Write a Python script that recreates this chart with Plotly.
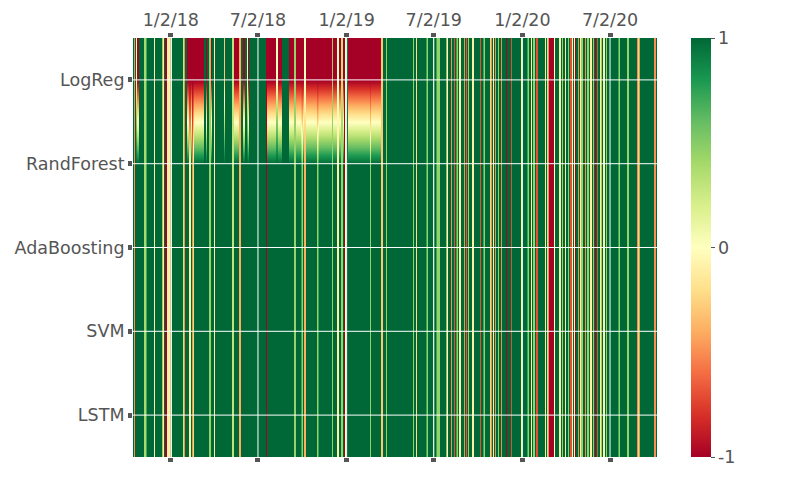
import pandas as pd
import plotly.graph_objects as go

# rows of the heatmap, top to bottom
models = ["LogReg", "RandForest", "AdaBoosting", "SVM", "LSTM"]

# trading days shown on the x axis
first_day = "2017-10-16"
last_day = "2020-10-07"

# days where the four lower models are not +1  (first day, last day, value)
shared_stripes = [
    ("2017-10-17", "2017-10-18", -0.5), ("2017-11-07", "2017-11-10", 0.4),
    ("2017-11-28", "2017-11-29", -0.1), ("2017-12-14", "2017-12-15", 0.45),
    ("2017-12-18", "2017-12-18", -0.7), ("2017-12-21", "2017-12-22", -1),
    ("2017-12-26", "2017-12-26", -0.1), ("2017-12-28", "2017-12-29", -0.1),
    ("2018-01-03", "2018-01-04", -0.1), ("2018-01-29", "2018-01-30", -0.5),
    ("2018-02-09", "2018-02-12", -0.1), ("2018-02-15", "2018-02-16", -0.5),
    ("2018-03-23", "2018-03-26", 0.45), ("2018-04-02", "2018-04-03", -0.1),
    ("2018-05-10", "2018-05-11", 0.3), ("2018-05-24", "2018-05-25", -0.4),
    ("2018-07-18", "2018-07-19", -1), ("2018-09-14", "2018-09-17", 0.45),
    ("2018-10-01", "2018-10-02", 0.45), ("2018-10-05", "2018-10-08", -0.4),
    ("2018-11-01", "2018-11-02", 0.45), ("2018-12-03", "2018-12-04", 0.45),
    ("2018-12-14", "2018-12-17", -0.1), ("2018-12-21", "2018-12-24", 0.45),
    ("2018-12-27", "2018-12-28", -1), ("2019-02-20", "2019-02-21", 0.45),
    ("2019-03-15", "2019-03-18", -0.3), ("2019-03-25", "2019-03-26", 0.45),
    ("2019-05-20", "2019-05-21", 0.45), ("2019-05-27", "2019-05-28", -0.2),
    ("2019-06-17", "2019-06-18", 0.45), ("2019-07-01", "2019-07-02", 0.45),
    ("2019-07-08", "2019-07-09", 0.45), ("2019-07-11", "2019-07-12", 0.45),
    ("2019-07-29", "2019-07-30", 0), ("2019-08-07", "2019-08-08", -0.5),
    ("2019-08-13", "2019-08-14", -0.7), ("2019-08-19", "2019-08-20", 0.45),
    ("2019-08-23", "2019-08-26", -0.1), ("2019-09-03", "2019-09-04", -0.5),
    ("2019-09-06", "2019-09-09", -0.7), ("2019-09-11", "2019-09-12", 0.45),
    ("2019-09-20", "2019-09-23", -0.1), ("2019-10-07", "2019-10-08", -0.7),
    ("2019-10-14", "2019-10-15", 0.45), ("2019-10-28", "2019-10-29", -0.5),
    ("2019-11-01", "2019-11-04", -0.1), ("2019-11-06", "2019-11-07", -0.5),
    ("2019-11-12", "2019-11-13", 0.45), ("2019-11-19", "2019-11-20", -0.5),
    ("2019-11-28", "2019-11-29", -1), ("2019-12-10", "2019-12-11", -0.7),
    ("2019-12-30", "2019-12-31", -0.1), ("2020-01-13", "2020-01-14", 0.45),
    ("2020-01-20", "2020-01-21", -0.1), ("2020-01-24", "2020-01-27", 0.45),
    ("2020-01-31", "2020-02-03", -0.7), ("2020-02-18", "2020-02-19", -0.1),
    ("2020-02-24", "2020-02-25", -0.5), ("2020-02-27", "2020-03-06", -1),
    ("2020-03-19", "2020-03-20", -0.1), ("2020-03-24", "2020-03-25", 0.45),
    ("2020-03-31", "2020-04-01", -0.1), ("2020-04-06", "2020-04-07", 0.45),
    ("2020-04-10", "2020-04-13", -0.7), ("2020-04-15", "2020-04-16", -0.1),
    ("2020-04-20", "2020-04-21", -1), ("2020-04-27", "2020-04-28", -0.5),
    ("2020-04-30", "2020-05-01", -0.1), ("2020-05-05", "2020-05-06", 0.45),
    ("2020-05-12", "2020-05-13", -0.5), ("2020-05-15", "2020-05-18", 0.45),
    ("2020-05-22", "2020-05-25", -0.1), ("2020-05-27", "2020-05-28", 0.45),
    ("2020-06-01", "2020-06-02", -1), ("2020-06-04", "2020-06-05", -0.7),
    ("2020-06-11", "2020-06-12", -0.1), ("2020-06-18", "2020-06-19", -0.1),
    ("2020-06-24", "2020-06-25", 0.45), ("2020-07-20", "2020-07-21", 0.45),
    ("2020-08-07", "2020-08-10", 0.45), ("2020-08-27", "2020-08-28", -0.5),
    ("2020-09-01", "2020-09-02", -0.5), ("2020-10-02", "2020-10-05", -0.5),
]

# stretches where LogReg is -1
logreg_red = [
    ("2017-10-23", "2017-10-26"), ("2018-02-05", "2018-03-09"),
    ("2018-03-16", "2018-03-16"), ("2018-03-27", "2018-03-27"),
    ("2018-05-14", "2018-05-23"), ("2018-06-01", "2018-06-05"),
    ("2018-06-11", "2018-06-13"), ("2018-07-18", "2018-08-20"),
    ("2018-09-04", "2018-12-28"), ("2019-01-04", "2019-03-14"),
]

# other LogReg days that differ from the lower rows
logreg_days = [
    ("2018-04-23", "2018-04-24", -0.3), ("2018-08-09", "2018-08-10", 0),
    ("2018-09-14", "2018-09-17", 0.45), ("2018-10-05", "2018-10-08", 0),
    ("2018-12-03", "2018-12-04", 0.45), ("2018-12-14", "2018-12-17", 0),
    ("2018-12-21", "2018-12-24", 0.3),
]

# date ticks on the top axis
tick_dates = ["2018-01-02", "2018-07-02", "2019-01-02",
              "2019-07-02", "2020-01-02", "2020-07-02"]
tick_text = ["1/2/18", "7/2/18", "1/2/19", "7/2/19", "1/2/20", "7/2/20"]

# colorbar ticks
cbar_vals = [-1, 0, 1]
cbar_text = ["-1", "0", "1"]

days = pd.bdate_range(first_day, last_day)

shared = pd.Series(1.0, index=days)
for start, end, v in shared_stripes:
    shared.loc[start:end] = v

logreg = shared.copy()
for start, end in logreg_red:
    logreg.loc[start:end] = -1
for start, end, v in logreg_days:
    logreg.loc[start:end] = v

z = [logreg.tolist()] + [shared.tolist() for _ in models[1:]]

fig = go.Figure(go.Heatmap(
    z=z,
    x=days,
    y=models,
    colorscale="RdYlGn",
    zmin=-1,
    zmax=1,
    zsmooth="best",
    colorbar=dict(
        x=1.065, xanchor="left", xpad=0,
        y=0.5, len=1, ypad=0,
        thickness=20,
        outlinewidth=0,
        tickvals=cbar_vals,
        ticktext=cbar_text,
        ticks="outside", ticklen=4, tickcolor="#555",
    ),
))

# white grid lines drawn over the heatmap
shapes = []
for d in tick_dates:
    shapes.append(dict(type="line", xref="x", yref="paper", x0=d, x1=d, y0=0, y1=1,
                       line=dict(color="white", width=1), layer="above"))
for i in range(len(models)):
    shapes.append(dict(type="line", xref="paper", yref="y", x0=0, x1=1, y0=i, y1=i,
                       line=dict(color="white", width=1), layer="above"))

fig.update_layout(
    width=800,
    height=480,
    margin=dict(l=125, r=151, t=30, b=31),
    paper_bgcolor="white",
    plot_bgcolor="white",
    font=dict(family="DejaVu Sans", size=17.5, color="#555"),
    shapes=shapes,
    xaxis=dict(
        side="top",
        tickvals=tick_dates,
        ticktext=tick_text,
        ticks="outside", ticklen=4, tickwidth=5, tickcolor="#555",
        mirror="ticks",
        showgrid=False, zeroline=False, showline=False,
        automargin=False,
    ),
    yaxis=dict(
        type="category",
        autorange="reversed",
        ticks="outside", ticklen=4, tickwidth=5, tickcolor="#555",
        showgrid=False, zeroline=False, showline=False,
        automargin=False,
    ),
)

fig.write_html("out.html")
